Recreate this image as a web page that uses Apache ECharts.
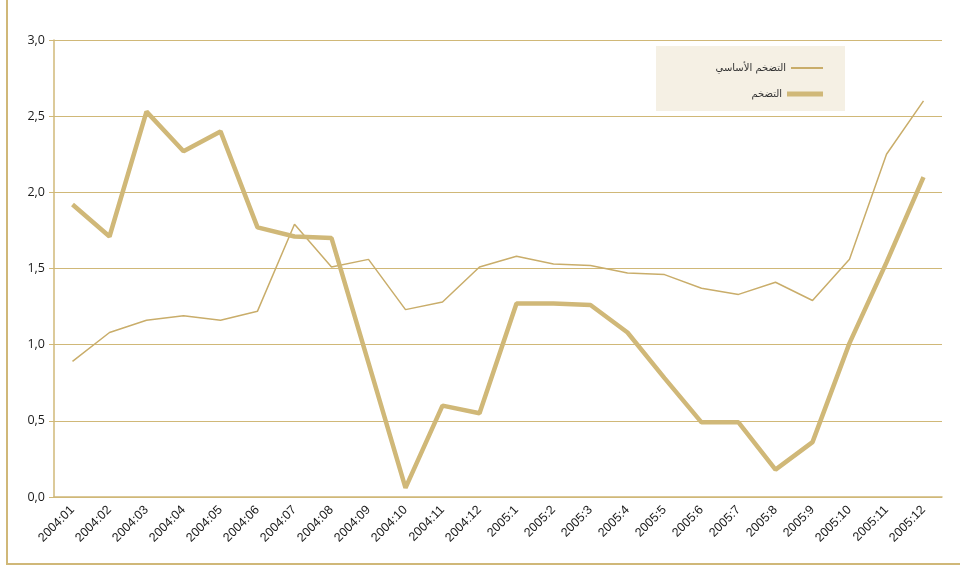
<!DOCTYPE html>
<html>
<head>
<meta charset="utf-8">
<script src="https://cdn.jsdelivr.net/npm/echarts@6/dist/echarts.min.js"></script>
<style>
  html, body { margin: 0; padding: 0; background: #fff; }
  #chart { width: 960px; height: 566px; }
</style>
</head>
<body>
<div id="chart"></div>
<script>
// categories (year:month)
var months = ['2004:01', '2004:02', '2004:03', '2004:04', '2004:05', '2004:06',
  '2004:07', '2004:08', '2004:09', '2004:10', '2004:11', '2004:12',
  '2005:1', '2005:2', '2005:3', '2005:4', '2005:5', '2005:6',
  '2005:7', '2005:8', '2005:9', '2005:10', '2005:11', '2005:12']

// التضخم (thick line)
var inflation = [1.92, 1.71, 2.53, 2.27, 2.40, 1.77, 1.71, 1.70, 0.88, 0.06, 0.60, 0.55,
  1.27, 1.27, 1.26, 1.08, 0.78, 0.49, 0.49, 0.18, 0.36, 1.01, 1.54, 2.10]

// التضخم الأساسي (thin line)
var coreInflation = [0.89, 1.08, 1.16, 1.19, 1.16, 1.22, 1.79, 1.51, 1.56, 1.23, 1.28, 1.51,
  1.58, 1.53, 1.52, 1.47, 1.46, 1.37, 1.33, 1.41, 1.29, 1.56, 2.25, 2.60]

var gold = '#d0b878'
var goldThin = '#c9ad6a'

var chart = echarts.init(document.getElementById('chart'))
chart.setOption({
  animation: false,
  backgroundColor: '#fff',
  graphic: [
    {
      type: 'rect',
      shape: { x: 7, y: -10, width: 980, height: 574 },
      style: { fill: 'none', stroke: gold, lineWidth: 2 }
    },
    {
      type: 'rect',
      shape: { x: 656, y: 46, width: 189, height: 65 },
      style: { fill: '#f5f0e4' },
      z: -1
    }
  ],
  legend: [
    {
      data: [{ name: 'التضخم الأساسي', icon: 'rect' }],
      right: 137,
      top: 63,
      padding: 0,
      itemWidth: 32,
      itemHeight: 2,
      itemGap: 6,
      align: 'right',
      textStyle: { fontSize: 10, color: '#333', fontFamily: 'DejaVu Sans' }
    },
    {
      data: [{ name: 'التضخم', icon: 'rect' }],
      right: 137,
      top: 89,
      padding: 0,
      itemWidth: 36,
      itemHeight: 5,
      align: 'right',
      textStyle: { fontSize: 10, color: '#333', fontFamily: 'DejaVu Sans' }
    }
  ],
  grid: {
    left: 54,
    right: 18,
    top: 40,
    bottom: 69
  },
  xAxis: {
    type: 'category',
    data: months,
    boundaryGap: true,
    axisLine: { lineStyle: { color: gold, width: 1.5 } },
    axisTick: { length: 5, lineStyle: { color: gold } },
    axisLabel: {
      rotate: 45,
      margin: 11,
      interval: 0,
      fontSize: 12.5,
      color: '#1a1a1a',
      fontFamily: 'Liberation Sans'
    }
  },
  yAxis: {
    type: 'value',
    min: 0,
    max: 3,
    interval: 0.5,
    axisLine: { show: true, lineStyle: { color: gold, width: 1.5 } },
    axisTick: { show: true, length: 5, lineStyle: { color: gold } },
    splitLine: { lineStyle: { color: gold, width: 1 } },
    axisLabel: {
      fontSize: 12.5,
      color: '#1a1a1a',
      margin: 9,
      fontFamily: 'Open Sans',
      formatter: function (v) { return v.toFixed(1).replace('.', ',') }
    }
  },
  series: [
    {
      name: 'التضخم الأساسي',
      type: 'line',
      data: coreInflation,
      symbol: 'none',
      itemStyle: { color: goldThin },
      lineStyle: { color: goldThin, width: 1.5 }
    },
    {
      name: 'التضخم',
      type: 'line',
      data: inflation,
      symbol: 'none',
      itemStyle: { color: gold },
      lineStyle: { color: gold, width: 4.5 }
    }
  ]
})
</script>
</body>
</html>
